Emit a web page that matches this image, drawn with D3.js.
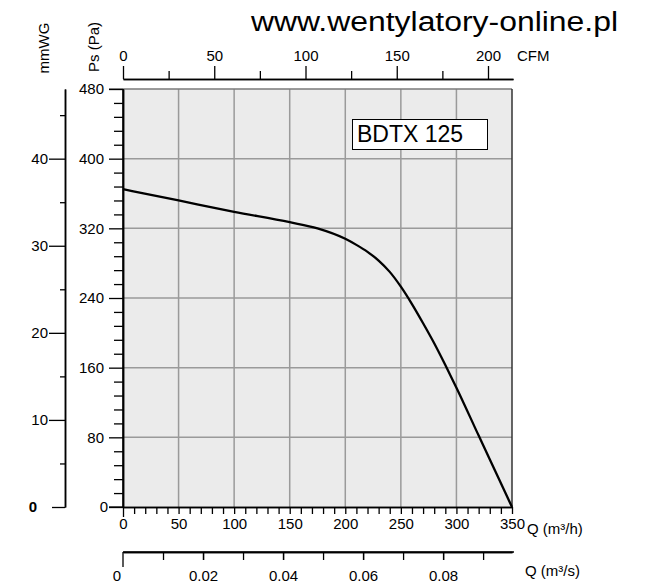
<!DOCTYPE html>
<html><head><meta charset="utf-8">
<script src="https://cdn.jsdelivr.net/npm/d3@7"></script>
<style>
body{margin:0;background:#fff;}
svg{display:block;font-family:"Liberation Sans",Arial,sans-serif;}
</style></head>
<body><svg id="c" width="659" height="588"></svg>
<script>
// ---- data ----
const flowM3h = [0, 50, 100, 150, 175, 200, 210, 220, 230, 240, 250, 260, 270, 280, 290, 300, 320, 335, 350];
const pressurePa = [365, 352, 339, 327, 320, 308, 301, 293, 283, 270, 253, 233, 211, 188, 163, 137, 82, 41, 0];
const paTicks = [0, 80, 160, 240, 320, 400, 480];
const mmwgTicks = [0, 10, 20, 30, 40];
const m3hTicks = [0, 50, 100, 150, 200, 250, 300, 350];
const cfmTicks = [0, 50, 100, 150, 200];
const m3sTicks = [0.02, 0.04, 0.06, 0.08];
const modelName = "BDTX 125";
const siteName = "www.wentylatory-online.pl";

const svg = d3.select("#c");
const x = d3.scaleLinear().domain([0, 350]).range([123, 512]);
const y = d3.scaleLinear().domain([0, 480]).range([507, 89]);
const cfm = d3.scaleLinear().domain([0, 213.7]).range([123, 513]);
const m3s = d3.scaleLinear().domain([0, 350 / 3600]).range([123, 512]);
const mm = d3.scaleLinear().domain([0, 48]).range([507, 89]);

const FS = 15;

// plot background
svg.append("rect").attr("x", x(0)).attr("y", y(480))
  .attr("width", x(350) - x(0)).attr("height", y(0) - y(480))
  .attr("fill", "#ebebeb");

// gridlines
const grid = svg.append("g").attr("stroke", "#9a9a9a").attr("stroke-width", 1.5);
m3hTicks.filter(d => d > 0 && d < 350).forEach(d =>
  grid.append("line").attr("x1", x(d)).attr("x2", x(d)).attr("y1", y(0)).attr("y2", y(480)));
paTicks.filter(d => d > 0 && d < 480).forEach(d =>
  grid.append("line").attr("x1", x(0)).attr("x2", x(350)).attr("y1", y(d)).attr("y2", y(d)));
// top border
svg.append("line").attr("x1", 109).attr("x2", x(350)).attr("y1", y(480)).attr("y2", y(480))
  .attr("stroke", "#7a7a7a").attr("stroke-width", 1.5);
// right border
svg.append("line").attr("x1", x(350)).attr("x2", x(350)).attr("y1", y(480)).attr("y2", y(0))
  .attr("stroke", "#333").attr("stroke-width", 1.5);

function styleAxis(g) {
  g.selectAll("path.domain").attr("stroke", "#000").attr("stroke-width", 1.5);
  g.selectAll(".tick line").attr("stroke", "#000").attr("stroke-width", 1.3);
  g.selectAll("text").attr("font-size", FS).attr("fill", "#000").attr("font-family", "Liberation Sans, Arial, sans-serif");
}

// ---- left Pa axis ----
const paMinor = d3.range(0, 481, 16).filter(d => d % 80 !== 0);
svg.append("g").attr("transform", `translate(${x(0)},0)`)
  .call(d3.axisLeft(y).tickValues(paMinor).tickSize(9).tickSizeOuter(0).tickFormat(""))
  .call(styleAxis);
const paAx = svg.append("g").attr("transform", `translate(${x(0)},0)`)
  .call(d3.axisLeft(y).tickValues(paTicks).tickSize(14).tickSizeOuter(0).tickPadding(5))
  .call(styleAxis);
paAx.selectAll(".tick").filter(d => d === 0).select("text").attr("x", -15).attr("dx", 0);

// ---- mmWG axis ----
const mmX = 65;
svg.append("g").attr("transform", `translate(${mmX},0)`)
  .call(d3.axisLeft(mm).tickValues([5, 15, 25, 35, 45]).tickSize(5).tickSizeOuter(0).tickFormat(""))
  .call(styleAxis);
const mmAx = svg.append("g").attr("transform", `translate(${mmX},0)`)
  .call(d3.axisLeft(mm).tickValues(mmwgTicks).tickSize(16).tickSizeOuter(0).tickPadding(1))
  .call(styleAxis);
mmAx.selectAll(".tick").filter(d => d === 0).each(function () {
  const t = d3.select(this);
  t.select("line").attr("x2", -13);
  t.select("text").attr("x", -28).attr("font-weight", "bold");
});

// ---- bottom m3/h axis ----
const m3hMinor = d3.range(0, 351, 10).filter(d => d % 50 !== 0);
svg.append("g").attr("transform", `translate(0,${y(0)})`)
  .call(d3.axisBottom(x).tickValues(m3hMinor).tickSize(7).tickSizeOuter(0).tickFormat(""))
  .call(styleAxis);
const bx = svg.append("g").attr("transform", `translate(0,${y(0)})`)
  .call(d3.axisBottom(x).tickValues(m3hTicks).tickSize(7).tickSizeOuter(0).tickPadding(4))
  .call(styleAxis);
bx.selectAll(".tick").filter(d => d === 0).select("line").attr("y2", 10);
// extend baseline left to Pa "0" tick
svg.append("line").attr("x1", 109).attr("x2", x(0)).attr("y1", y(0)).attr("y2", y(0))
  .attr("stroke", "#000").attr("stroke-width", 1.3);
svg.append("text").attr("x", 527).attr("y", 534).attr("font-size", FS).text("Q (m³/h)");

// ---- top CFM axis ----
const cfmY = 79;
svg.append("g").attr("transform", `translate(0,${cfmY})`)
  .call(d3.axisTop(cfm).tickValues([25, 75, 125, 175]).tickSize(8).tickSizeOuter(0).tickFormat(""))
  .call(styleAxis);
svg.append("g").attr("transform", `translate(0,${cfmY})`)
  .call(d3.axisTop(cfm).tickValues(cfmTicks).tickSize(13).tickSizeOuter(0).tickPadding(5))
  .call(styleAxis);
svg.append("text").attr("x", 517).attr("y", 61).attr("font-size", FS).text("CFM");

// ---- bottom m3/s axis ----
const m3sY = 552;
const m3sAll = d3.range(1, 10).map(d => d / 100);
svg.append("g").attr("transform", `translate(0,${m3sY})`)
  .call(d3.axisBottom(m3s).tickValues(m3sAll).tickSize(8).tickSizeOuter(0).tickFormat(""))
  .call(styleAxis);
svg.append("g").attr("transform", `translate(0,${m3sY})`)
  .call(d3.axisBottom(m3s).tickValues(m3sTicks).tickSize(8).tickSizeOuter(0).tickPadding(10)
    .tickFormat(d3.format(".2f")))
  .call(styleAxis);
svg.append("line").attr("x1", m3s(0)).attr("x2", m3s(0)).attr("y1", m3sY).attr("y2", m3sY + 15)
  .attr("stroke", "#000").attr("stroke-width", 1.3);
svg.append("line").attr("x1", m3s(0)).attr("x2", 514).attr("y1", m3sY).attr("y2", m3sY)
  .attr("stroke", "#000").attr("stroke-width", 1.5);
svg.append("text").attr("x", m3s(0) - 6).attr("y", 581).attr("text-anchor", "middle")
  .attr("font-size", FS).text("0");
svg.append("text").attr("x", 525).attr("y", 576).attr("font-size", FS).text("Q (m³/s)");

// ---- axis titles ----
svg.append("text").attr("transform", "translate(49,48) rotate(-90)")
  .attr("text-anchor", "middle").attr("font-size", FS).text("mmWG");
svg.append("text").attr("transform", "translate(99,47) rotate(-90)")
  .attr("text-anchor", "middle").attr("font-size", FS).text("Ps (Pa)");

// ---- site name ----
svg.append("text").attr("x", 251).attr("y", 31).attr("font-size", 27)
  .attr("textLength", 367).attr("lengthAdjust", "spacingAndGlyphs").text(siteName);

// ---- curve ----
const pts = flowM3h.map((q, i) => [q, pressurePa[i]]);
svg.append("path").datum(pts)
  .attr("fill", "none").attr("stroke", "#000").attr("stroke-width", 2.3)
  .attr("d", d3.line().x(d => x(d[0])).y(d => y(d[1])).curve(d3.curveMonotoneX));

// left axis line on top
svg.append("line").attr("x1", x(0)).attr("x2", x(0)).attr("y1", y(480)).attr("y2", y(0))
  .attr("stroke", "#000").attr("stroke-width", 1.5);

// ---- legend box ----
svg.append("rect").attr("x", 352.5).attr("y", 119.5).attr("width", 135).attr("height", 30)
  .attr("fill", "#fff").attr("stroke", "#000").attr("stroke-width", 1);
svg.append("text").attr("x", 357).attr("y", 142).attr("font-size", 23).text(modelName);
</script></body></html>
